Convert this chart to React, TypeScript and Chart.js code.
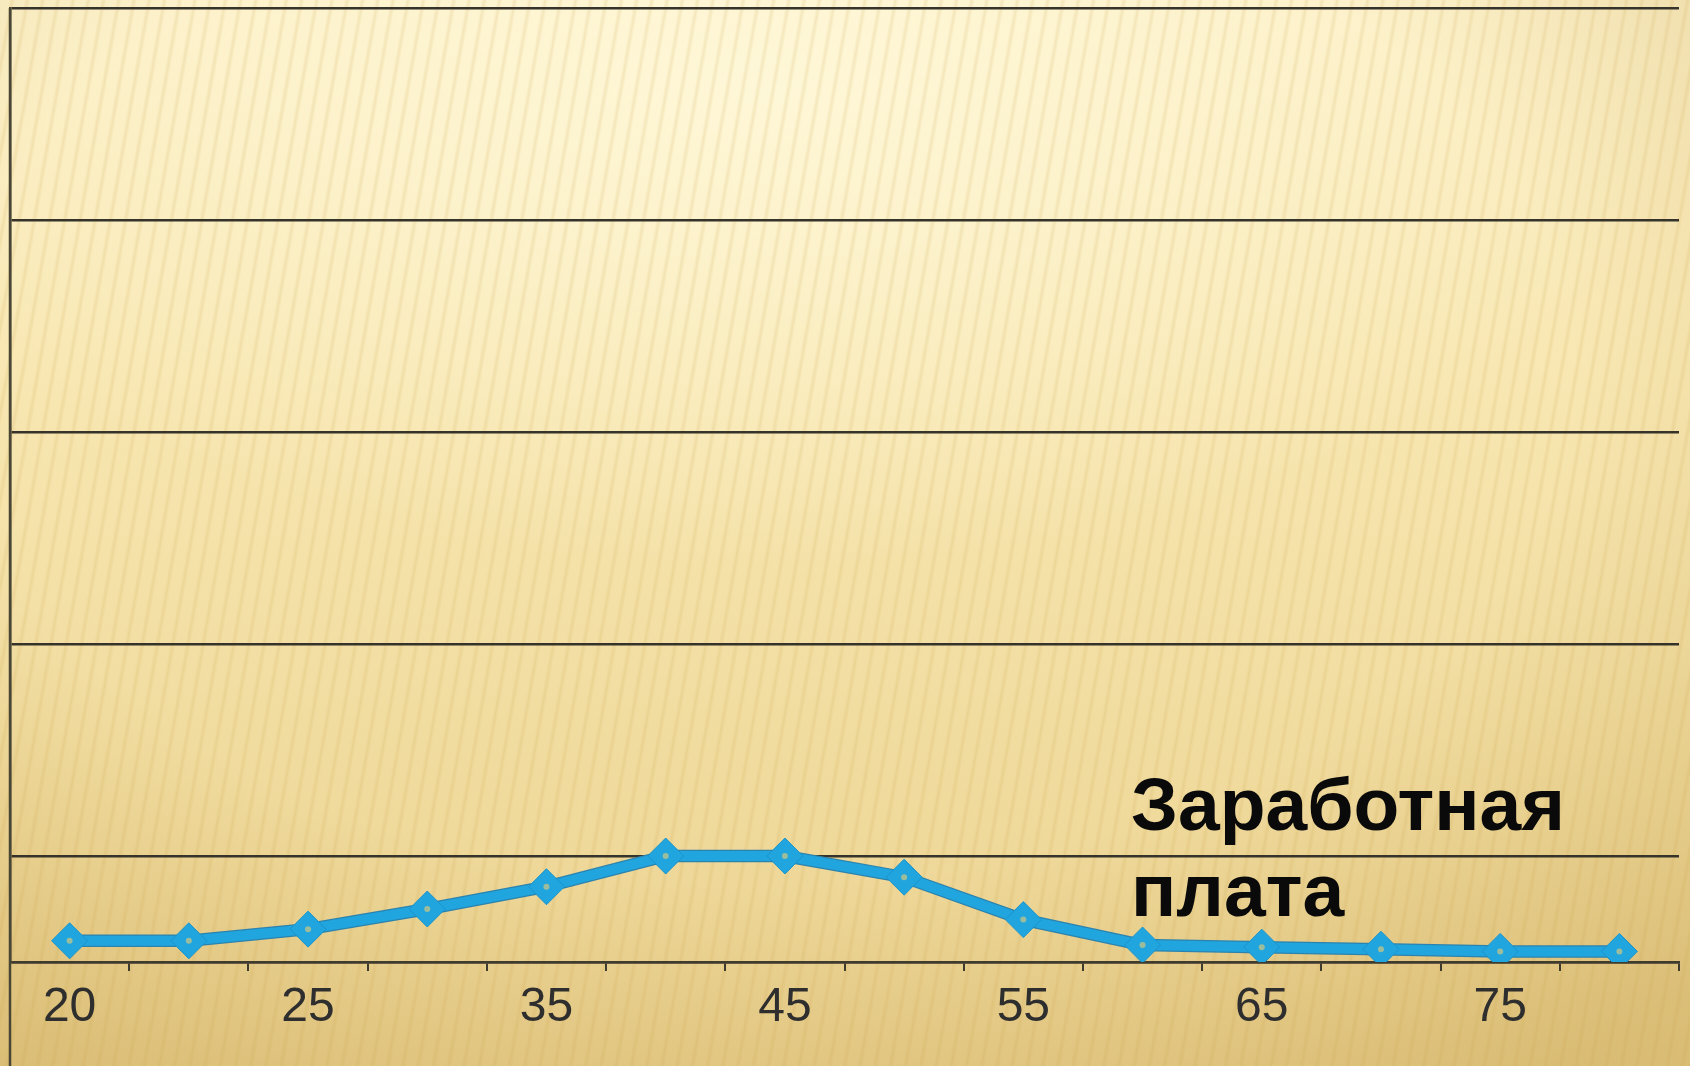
import React, { useEffect, useRef } from "react";
import { Chart, registerables } from "chart.js";

Chart.register(...registerables);

const categories = ["20", "22", "25", "30", "35", "40", "45", "50", "55", "60", "65", "70", "75", "80"];
const shownLabels = ["20", "", "25", "", "35", "", "45", "", "55", "", "65", "", "75", ""];
const wageValues = [0.2, 0.2, 0.31, 0.5, 0.71, 1.0, 1.0, 0.8, 0.4, 0.16, 0.14, 0.12, 0.1, 0.1];
const gridValues = [0, 1, 3, 5, 7, 9];
const seriesName = ["Заработная", "плата"];

const W = 1690;
const H = 1066;

export default function App() {
  const ref = useRef<HTMLCanvasElement | null>(null);

  useEffect(() => {
    const canvas = ref.current;
    if (!canvas) return;

    const overlay = {
      id: "overlay",
      afterDraw(chart: any) {
        const ctx = chart.ctx;
        const area = chart.chartArea;
        ctx.save();
        ctx.strokeStyle = "#4a4636";
        ctx.lineWidth = 2.5;
        ctx.beginPath();
        ctx.moveTo(area.left, area.top);
        ctx.lineTo(area.left, chart.height);
        ctx.stroke();
        ctx.fillStyle = "#0a0a0a";
        ctx.font = 'bold 75px "Liberation Sans", Arial, sans-serif';
        ctx.textBaseline = "alphabetic";
        ctx.textAlign = "left";
        const x = area.left + 1121;
        ctx.fillText(seriesName[0], x, area.top + 822);
        ctx.fillText(seriesName[1], x, area.top + 908);
        ctx.restore();
      },
    };

    const chart = new Chart(canvas, {
      type: "line",
      data: {
        labels: categories,
        datasets: [
          {
            label: "center",
            data: wageValues,
            showLine: false,
            pointStyle: "circle",
            pointRadius: 3,
            pointBackgroundColor: "#9cbd9c",
            pointBorderWidth: 0,
            order: 0,
          },
          {
            label: "Заработная плата",
            data: wageValues,
            borderColor: "#20a5df",
            borderWidth: 10,
            pointStyle: "rectRot",
            pointRadius: 18,
            pointBackgroundColor: "#20a5df",
            pointBorderColor: "#1b93ca",
            pointBorderWidth: 1,
            tension: 0,
            order: 1,
          },
          {
            label: "outline",
            data: wageValues,
            borderColor: "#2c83ad",
            borderWidth: 12.5,
            pointRadius: 0,
            tension: 0,
            order: 2,
          },
        ],
      },
      options: {
        animation: false,
        responsive: false,
        maintainAspectRatio: false,
        layout: { autoPadding: false, padding: { left: 10, right: 11, top: 8, bottom: 0 } },
        plugins: {
          legend: { display: false },
          tooltip: { enabled: false },
          title: { display: false },
        },
        scales: {
          x: {
            type: "category",
            offset: true,
            afterFit: (s: any) => {
              s.height = 104;
            },
            border: { display: true, color: "#3f3b2e", width: 2.5 },
            grid: {
              display: true,
              offset: true,
              drawOnChartArea: false,
              drawTicks: true,
              tickLength: 9,
              color: "#3f3b2e",
              lineWidth: 2,
            },
            ticks: {
              autoSkip: false,
              maxRotation: 0,
              padding: 8,
              color: "#2e2e2e",
              font: { family: '"Liberation Sans", Arial, sans-serif', size: 48 },
              callback: (_v: any, i: number) => shownLabels[i],
            },
          },
          y: {
            min: 0,
            max: 9,
            afterFit: (s: any) => {
              s.width = 0;
            },
            afterBuildTicks: (s: any) => {
              s.ticks = gridValues.map((v) => ({ value: v }));
            },
            border: { display: true, color: "#4a4636", width: 2.5 },
            grid: {
              display: true,
              drawTicks: false,
              color: "#35332a",
              lineWidth: 2.5,
            },
            ticks: { display: false },
          },
        },
      },
      plugins: [overlay],
    });

    return () => chart.destroy();
  }, []);

  const bg = [
    "repeating-linear-gradient(100deg, rgba(200,160,70,0) 0px, rgba(200,160,70,0) 9px, rgba(200,160,70,0.17) 12px, rgba(200,160,70,0) 15px)",
    "radial-gradient(ellipse 55% 45% at 45% 8%, rgba(255,250,222,0.75), rgba(255,250,222,0) 100%)",
    "radial-gradient(ellipse 80% 80% at 45% 35%, rgba(0,0,0,0) 60%, rgba(160,115,20,0.22) 100%)",
    "linear-gradient(180deg, #fcefc5 0%, #f8e7b2 35%, #f1dc9f 70%, #ead190 100%)",
  ].join(",");

  return (
    <div
      style={{
        position: "fixed",
        left: 0,
        top: 0,
        width: W,
        height: H,
        background: bg,
        overflow: "hidden",
      }}
    >
      <canvas ref={ref} width={W} height={H} style={{ display: "block", width: W, height: H }} />
    </div>
  );
}
